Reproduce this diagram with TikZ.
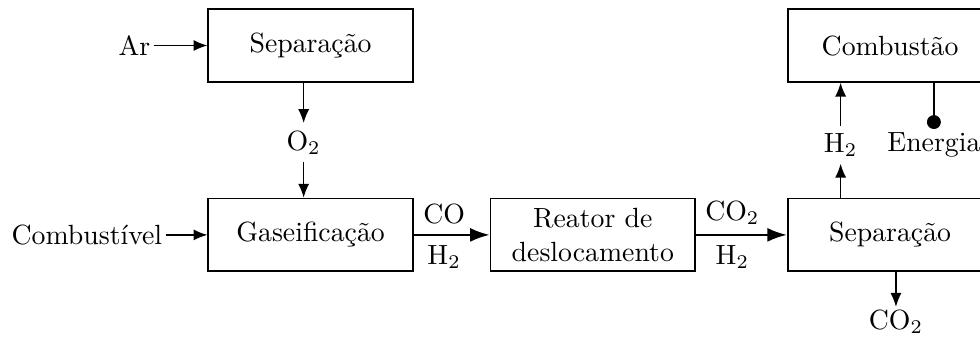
\documentclass[tikz,border=0pt]{standalone}
\usepackage{fontspec}
\usepackage{tikz}
\usetikzlibrary{positioning}
\usetikzlibrary{arrows.meta}

\begin{document}
\begin{tikzpicture}[box/.style={draw,line width=0.6pt,minimum width=2.59cm,minimum height=0.92cm,align=center,inner sep=2pt},
tag/.style={inner sep=1pt},midtag/.style={inner sep=2.5pt,yshift=-0.8pt},
feed/.style={line width=0.5pt,-{Latex[length=5pt,width=4pt]}},
stream/.style={line width=0.75pt,-{Latex[length=7pt,width=5pt]}}]
\useasboundingbox (0,0) rectangle (12.4,-4.263);
% blocos
\node[box] (sepA) at (3.93,-0.576) {Separação};
\node[tag,left=0.68cm of sepA] (ar) {Ar};
\node[box,below=1.455cm of sepA] (gas) {Gaseificação};
\node[tag,left=0.53cm of gas] (combustivel) {Combustível};
\node[box,right=0.96cm of gas] (reator) {Reator de\\deslocamento};
\node[box,right=1.15cm of reator] (sepB) {Separação};
\node[box,above=1.455cm of sepB] (comb) {Combustão};
% rotulos
\path (sepA.south) -- node[midtag,xshift=-2.5pt] (o2) {O$_2$} (gas.north);
\coordinate (hp) at ([xshift=0.68cm]sepB.north west);
\node[midtag] (h2up) at (hp |- o2) {H$_2$};
\coordinate (en) at ([xshift=1.86cm]comb.south west);
\node[midtag,inner sep=1pt] (energia) at (en |- o2) {Energia};
\coordinate (cp) at ([xshift=1.38cm]sepB.south west);
\node[inner sep=1pt,below=0.44cm of cp] (co2out) {CO$_2$};
% fluxos
\draw[feed] (ar) -- (sepA);
\draw[feed] (combustivel) -- (gas);
\draw[feed] (sepA.south -| o2) -- (o2);
\draw[feed] (o2) -- (gas.north -| o2);
\draw[stream] (gas) -- node[above,pos=0.4] {CO} node[below,pos=0.4] {H$_2$} (reator);
\draw[stream] (reator) -- node[above,pos=0.4] {CO$_2$} node[below,pos=0.4] {H$_2$} (sepB);
\draw[feed] (sepB.north -| h2up) -- (h2up);
\draw[feed] (h2up) -- (comb.south -| h2up);
\draw[line width=0.5pt,-{Circle[length=5pt]}] (en) -- (energia);
\draw[feed] (cp) -- (co2out);
\end{tikzpicture}
\end{document}
